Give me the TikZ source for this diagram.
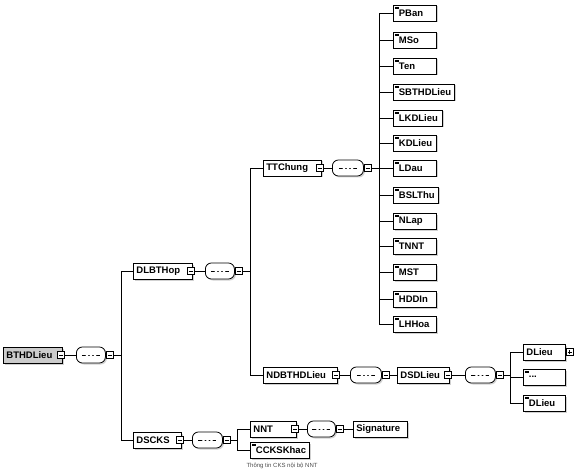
\documentclass[tikz,border=0pt]{standalone}
\usepackage{fontspec}
\setmainfont{Liberation Sans}
\usepackage{xcolor}
\usetikzlibrary{positioning,shadows}

\tikzset{
  elem/.style={draw, line width=.8pt, fill=white, anchor=west,
    font=\bfseries\fontsize{9.5}{10}\selectfont, text width=#1, align=left,
    inner xsep=3pt, inner ysep=0pt, minimum height=16pt,
    drop shadow={shadow xshift=1.5pt, shadow yshift=-1.5pt, fill=gray!60, opacity=.6}},
  root/.style={elem=#1, fill=gray!40},
  leaf/.style={elem=#1, execute at begin node=\kern2.5pt,
    path picture={\draw[line width=.6pt]
      ([shift={(1.5pt,-2pt)}]path picture bounding box.north west) -- ++(4pt,0pt)
      ([shift={(1.5pt,-3.5pt)}]path picture bounding box.north west) -- ++(4pt,0pt);}},
  seq/.style={rectangle, rounded corners=6pt,
    draw, line width=.8pt, fill=white, anchor=west, minimum width=#1, minimum height=16pt,
    inner sep=0pt,
    drop shadow={shadow xshift=1.5pt, shadow yshift=-1.5pt, fill=gray!60, opacity=.6},
    path picture={
      \draw[line width=.6pt] ([xshift=-9pt]path picture bounding box.center)
        -- ([xshift=9pt]path picture bounding box.center);
      \foreach \k in {-4,0,4}
        \fill ([xshift=\k pt]path picture bounding box.center) circle (1.6pt);}},
  tog/.style={draw, line width=.6pt, fill=white, minimum size=7pt, inner sep=0pt,
    path picture={\draw ([xshift=-2pt]path picture bounding box.center)
      -- ([xshift=2pt]path picture bounding box.center);}},
  togplus/.style={tog, path picture={
      \draw ([xshift=-2pt]path picture bounding box.center)
        -- ([xshift=2pt]path picture bounding box.center);
      \draw ([yshift=-2pt]path picture bounding box.center)
        -- ([yshift=2pt]path picture bounding box.center);}},
  wire/.style={line width=.7pt}
}

\begin{document}
\begin{tikzpicture}[x=1pt,y=-1pt]
\useasboundingbox (0,0) rectangle (576,476);
% elements (left edge, middle)
\node[root=53] (bthdlieu) at (3,355) {BTHDLieu};
\node[elem=53] (dlbthop) at (133,271) {DLBTHop};
\node[elem=42] (dscks) at (133,440) {DSCKS};
\node[elem=52] (ttchung) at (263,168) {TTChung};
\node[elem=68] (ndbthdlieu) at (263,375) {NDBTHDLieu};
\node[elem=46] (dsdlieu) at (397,375) {DSDLieu};
\node[elem=40] (nnt) at (250,429) {NNT};
\node[elem=48] (signature) at (353,429) {Signature};
\node[leaf=53] (ccksk) at (250,450) {CCKSKhac};
\node[font=\fontsize{6}{7}\selectfont, text=gray!60!black, anchor=west] (ckscap)
  at (243,466) {Thông tin CKS nội bộ NNT};
% leaves of TTChung
\foreach \n/\w/\y in {PBan/37/13, MSo/37/40, Ten/37/66, SBTHDLieu/55/92,
  LKDLieu/43/118, KDLieu/37/143, LDau/37/168, BSLThu/39/195, NLap/37/221,
  TNNT/37/246, MST/37/272, HDDIn/37/299, LHHoa/37/324}{
  \node[leaf=\w] (\n) at (393,\y) {\n};
}
% leaves of DSDLieu
\node[elem=36] (dlieu1) at (523,352) {DLieu};
\node[togplus, anchor=west] (dlieu1-t) at (dlieu1.east) {};
\node[leaf=36] (dlieu2) at (523,377) {...};
\node[leaf=36] (dlieu3) at (523,403) {DLieu};
% sequence compositors
\foreach \p/\y/\sx/\sw in {bthdlieu/355/76/29, dlbthop/271/205/29, dscks/440/192/30,
  ttchung/168/332/31, ndbthdlieu/375/350/31, dsdlieu/375/465/30, nnt/429/307/28}{
  \node[tog] (\p-t) at ([xshift=-2pt]\p.east) {};
  \node[seq=\sw] (\p-s) at (\sx,\y) {};
  \node[tog, anchor=west] (\p-st) at (\p-s.east) {};
  \draw[wire] (\p-t) -- (\p-s);
}
% bus lines
\coordinate (bus1) at (121,355);
\coordinate (bus2) at (250,271);
\coordinate (bus3) at (237,440);
\coordinate (bus4) at (379,168);
\coordinate (bus5) at (510,375);
\draw[wire] (bthdlieu-st) -- (bus1) foreach \c in {dlbthop,dscks}{ (bus1) |- (\c.west) };
\draw[wire] (dlbthop-st) -- (bus2) foreach \c in {ttchung,ndbthdlieu}{ (bus2) |- (\c.west) };
\draw[wire] (dscks-st) -- (bus3) foreach \c in {nnt,ccksk}{ (bus3) |- (\c.west) };
\draw[wire] (ttchung-st) -- (bus4) foreach \c in {PBan,MSo,Ten,SBTHDLieu,LKDLieu,KDLieu,
  LDau,BSLThu,NLap,TNNT,MST,HDDIn,LHHoa}{ (bus4) |- (\c.west) };
\draw[wire] (dsdlieu-st) -- (bus5) foreach \c in {dlieu1,dlieu2,dlieu3}{ (bus5) |- (\c.west) };
\draw[wire] (ndbthdlieu-st) -- (dsdlieu);
\draw[wire] (nnt-st) -- (signature);
\end{tikzpicture}
\end{document}
